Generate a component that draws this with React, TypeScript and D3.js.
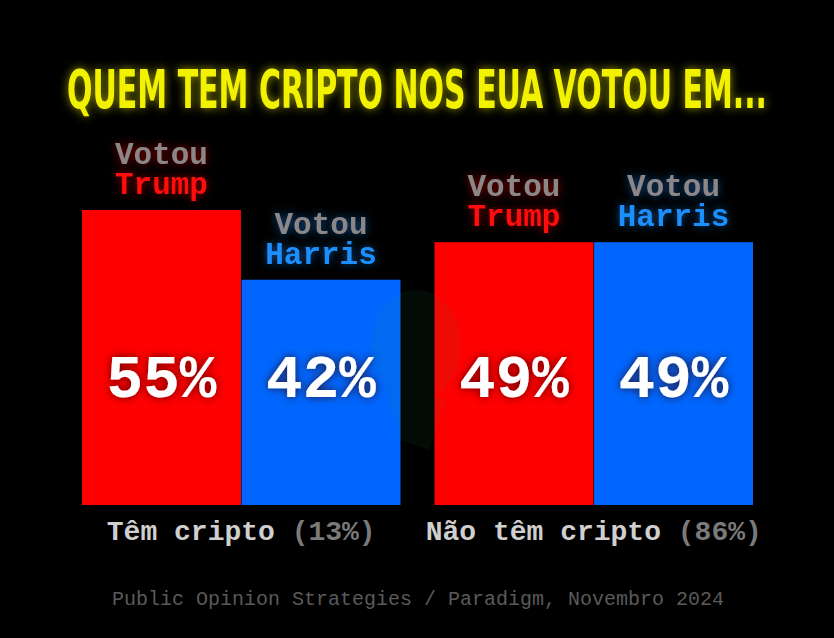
import { useEffect } from 'react'
import * as d3 from 'd3'

const groups = ['Têm cripto', 'Não têm cripto']
const groupShares = ['(13%)', '(86%)']
const candidates = ['Trump', 'Harris']
const trumpValues = [55, 49]
const harrisValues = [42, 49]
const candidateColors = ['#ff0000', '#0066ff']
const labelColors = ['#ff0a0a', '#1e8fff']
const title = 'QUEM TEM CRIPTO NOS EUA VOTOU EM...'
const source = 'Public Opinion Strategies / Paradigm, Novembro 2024'

const width = 834
const height = 638
const baseY = 505
const mono = '"Liberation Mono", "Courier New", monospace'

export default function App() {
  useEffect(() => {
    document.body.style.margin = '0'
    document.body.style.background = '#000'
  }, [])

  const x0 = d3.scaleBand<string>()
    .domain(groups)
    .range([82, 753])
    .paddingInner(0.0965)
    .paddingOuter(0)

  const x1 = d3.scaleBand<string>()
    .domain(candidates)
    .range([0, x0.bandwidth()])
    .paddingInner(0.004)

  const y = d3.scaleLinear().domain([0, 55]).range([baseY, 210])

  const values = [trumpValues, harrisValues]

  return (
    <svg width={width} height={height} style={{ display: 'block' }}>
      <defs>
        <filter id="glowYellow" x="-10%" y="-50%" width="120%" height="200%">
          <feGaussianBlur in="SourceAlpha" stdDeviation="5" result="b" />
          <feFlood floodColor="#d8d800" floodOpacity="0.7" />
          <feComposite in2="b" operator="in" result="g" />
          <feMerge>
            <feMergeNode in="g" />
            <feMergeNode in="SourceGraphic" />
          </feMerge>
        </filter>
        {labelColors.map((c, i) => (
          <filter key={i} id={`glow${i}`} x="-30%" y="-50%" width="160%" height="200%">
            <feGaussianBlur in="SourceAlpha" stdDeviation="4" result="b" />
            <feFlood floodColor={c} floodOpacity="0.55" />
            <feComposite in2="b" operator="in" result="g" />
            <feMerge>
              <feMergeNode in="g" />
              <feMergeNode in="SourceGraphic" />
            </feMerge>
          </filter>
        ))}
        <filter id="shadow" x="-20%" y="-30%" width="140%" height="160%">
          <feGaussianBlur in="SourceAlpha" stdDeviation="4" result="b" />
          <feFlood floodColor="#300000" floodOpacity="0.8" />
          <feComposite in2="b" operator="in" result="g" />
          <feMerge>
            <feMergeNode in="g" />
            <feMergeNode in="SourceGraphic" />
          </feMerge>
        </filter>
      </defs>
      <rect width={width} height={height} fill="#000" />

      <text
        x={417}
        y={108}
        textAnchor="middle"
        fill="#f2f200"
        fontFamily='"DejaVu Sans Condensed", "DejaVu Sans", sans-serif'
        fontWeight="bold"
        fontSize={53}
        textLength={700}
        lengthAdjust="spacingAndGlyphs"
        filter="url(#glowYellow)"
      >
        {title}
      </text>

      {groups.map((g, gi) => (
        <g key={g} transform={`translate(${x0(g)},0)`}>
          {candidates.map((c, ci) => {
            const v = values[ci][gi]
            const bx = x1(c)!
            const cx = bx + x1.bandwidth() / 2
            const top = y(v)
            return (
              <g key={c}>
                <rect x={bx} y={top} width={x1.bandwidth()} height={baseY - top} fill={candidateColors[ci]} />
                <g fontFamily={mono} fontWeight="bold" fontSize={31} textAnchor="middle">
                  <text x={cx} y={top - 46} fill="#8c8787" filter={`url(#glow${ci})`}>Votou</text>
                  <text x={cx} y={top - 16} fill={labelColors[ci]} filter={`url(#glow${ci})`}>{c}</text>
                </g>
                <text
                  x={cx}
                  y={397}
                  textAnchor="middle"
                  fill="#fff"
                  fontFamily={mono}
                  fontWeight="bold"
                  fontSize={61}
                  filter="url(#shadow)"
                >
                  {v}%
                </text>
              </g>
            )
          })}
          <text
            x={x0.bandwidth() / 2}
            y={540}
            textAnchor="middle"
            fontFamily={mono}
            fontWeight="bold"
            fontSize={28}
          >
            <tspan fill="#cfcfcf">{g} </tspan>
            <tspan fill="#7a7a7a">{groupShares[gi]}</tspan>
          </text>
        </g>
      ))}

      <g opacity={0.07} fill="#1fa04a">
        <ellipse cx={416} cy={345} rx={45} ry={55} />
        <path d="M380,370 L400,440 L430,450 L445,400 Z" />
      </g>

      <text
        x={418}
        y={605}
        textAnchor="middle"
        fill="#5a5a5a"
        fontFamily={mono}
        fontSize={20}
      >
        {source}
      </text>
    </svg>
  )
}
